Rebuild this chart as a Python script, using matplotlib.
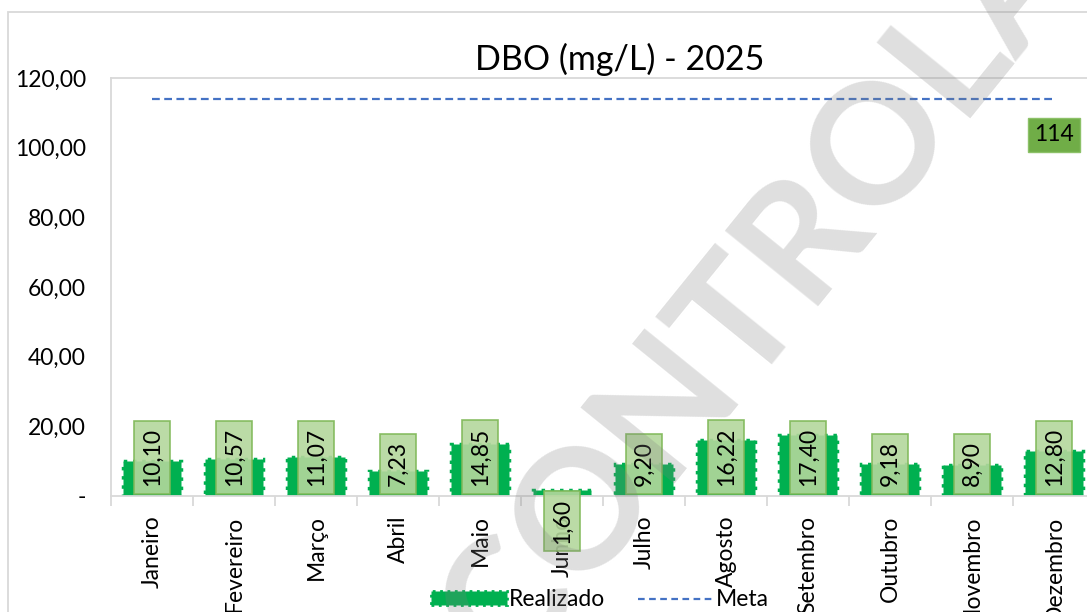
import matplotlib.pyplot as plt
from matplotlib.patches import Rectangle
from matplotlib.lines import Line2D
import numpy as np

plt.rcParams['font.family'] = ['Lato', 'DejaVu Sans']

months = ["Janeiro", "Fevereiro", "Março", "Abril", "Maio", "Junho",
          "Julho", "Agosto", "Setembro", "Outubro", "Novembro", "Dezembro"]
realizado = [10.10, 10.57, 11.07, 7.23, 14.85, 1.60,
             9.20, 16.22, 17.40, 9.18, 8.90, 12.80]
meta = [114] * 12
yticks = [0, 20, 40, 60, 80, 100, 120]

GREEN = "#00B050"
W, H = 1087, 612
FS = 16.5


def fmt(v):
    return "-" if v == 0 else f"{v:.2f}".replace(".", ",")


fig = plt.figure(figsize=(W / 100, H / 100), dpi=100)

# outer chart border
fig.patches.append(Rectangle((8 / W, -0.1), 1.2, (H - 12) / H + 0.1,
                             transform=fig.transFigure, fill=False,
                             edgecolor="#d9d9d9", linewidth=1.3))

ax = fig.add_axes([111 / W, (H - 496) / H, 984 / W, (496 - 78) / H])
x = np.arange(len(months))
ax.bar(x, realizado, width=0.7, color=GREEN, edgecolor=GREEN,
       linewidth=2.5, linestyle=":", zorder=2)
ax.plot(x, meta, linestyle=(0, (3.5, 2)), color="#4472C4", linewidth=1.6, zorder=3)

ax.set_xlim(-0.5, 11.5)
ax.set_ylim(0, 120)
ax.set_yticks(yticks)
ax.set_yticklabels([fmt(v) for v in yticks])
ax.tick_params(axis="y", length=0, pad=18, labelsize=FS)
ax.set_xticks(x)
ax.set_xticklabels(months, rotation=90)
ax.tick_params(axis="x", which="major", length=0, pad=14, labelsize=FS)
ax.set_xticks(np.arange(-0.5, 12, 1), minor=True)
ax.tick_params(axis="x", which="minor", length=7, color="#d9d9d9", width=1.3)
for s in ax.spines.values():
    s.set_color("#d9d9d9")
    s.set_linewidth(1.3)

box = dict(boxstyle="square,pad=0.33", facecolor="#B4D79C",
           edgecolor="#7FB857", linewidth=1.2, alpha=0.9)
for i, v in enumerate(realizado):
    if v < 3:
        ax.text(i, -0.8, fmt(v), rotation=90, ha="center", va="top",
                fontsize=FS, bbox=box, zorder=4, clip_on=False)
    else:
        ax.text(i, 2.8, fmt(v), rotation=90, ha="center", va="bottom",
                fontsize=FS, bbox=box, zorder=4)

ax.text(11, 103.7, f"{meta[-1]}", ha="center", va="center", fontsize=FS,
        bbox=dict(boxstyle="square,pad=0.28", facecolor="#70AD47",
                  edgecolor="#8CC168", linewidth=1), zorder=4)

fig.text(620 / W, 1 - 59 / H, "DBO (mg/L) - 2025", ha="center", va="center",
         fontsize=24.5)

handles = [Rectangle((0, 0), 1, 1, facecolor=GREEN, edgecolor=GREEN,
                     linestyle=":", linewidth=2),
           Line2D([], [], linestyle=(0, (3, 2)), color="#4472C4", linewidth=1.6)]
fig.legend(handles, ["Realizado", "Meta"], loc="center",
           bbox_to_anchor=(600 / W, 1 - 600 / H), ncol=2, frameon=False,
           fontsize=FS, handlelength=3.3, handleheight=0.55,
           handletextpad=0.1, columnspacing=1.4)

# watermark
fig.text(838 / W, 1 - 198 / H, "CONTROLADA", rotation=51, ha="center",
         va="center", rotation_mode="anchor", fontsize=120, fontweight="bold",
         color="#808080", alpha=0.25, zorder=10)

fig.savefig("out.png", dpi=100)
